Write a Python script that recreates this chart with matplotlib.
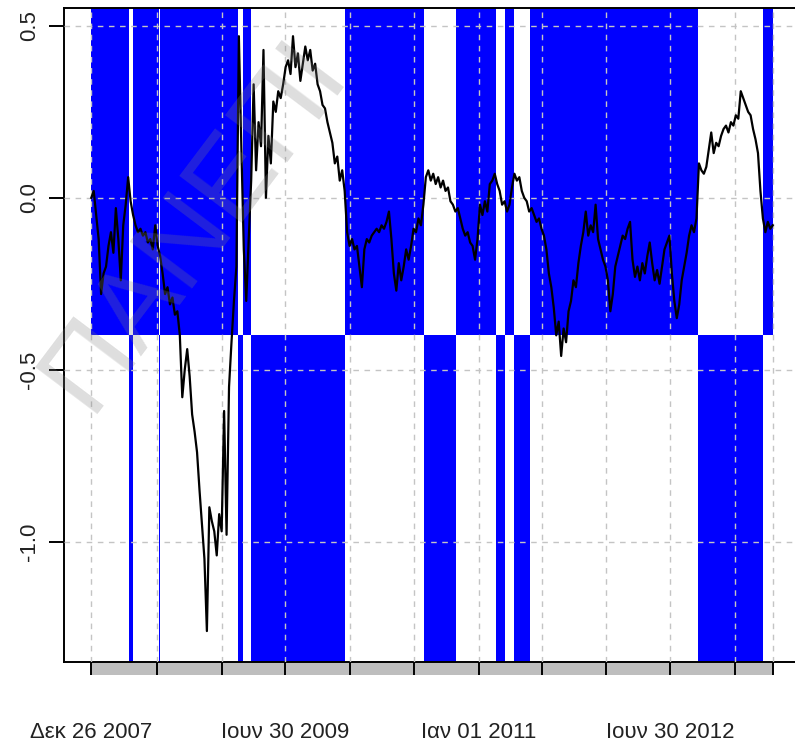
import matplotlib
matplotlib.use('Agg')
import matplotlib.pyplot as plt
import matplotlib.dates as mdates
import matplotlib.transforms as mtransforms
from matplotlib.patches import Rectangle
import pandas as pd

plt.rcParams['font.family'] = ['Liberation Sans', 'DejaVu Sans']
plt.rcParams['axes.unicode_minus'] = False

# ---------------- data ----------------
start_date = '2007-12-26'
values = [
    0.00, 0.02, -0.05, -0.12, -0.28, -0.22, -0.20, -0.14, -0.10, -0.16,
    -0.03, -0.12, -0.24, -0.08, -0.02, 0.06, -0.01, -0.05, -0.08, -0.10,
    -0.09, -0.11, -0.10, -0.13, -0.12, -0.15, -0.08, -0.14, -0.17, -0.22,
    -0.28, -0.26, -0.31, -0.29, -0.34, -0.33, -0.40, -0.58, -0.50, -0.44,
    -0.52, -0.63, -0.68, -0.74, -0.85, -0.95, -1.05, -1.26, -0.90, -0.94,
    -0.97, -1.04, -0.92, -0.97, -0.62, -0.98, -0.55, -0.42, -0.30, -0.20,
    0.47, 0.15, -0.15, -0.30, -0.12, 0.05, 0.33, 0.08, 0.22, 0.15,
    0.43, 0.00, 0.18, 0.10, 0.28, 0.25, 0.31, 0.29, 0.33, 0.38,
    0.40, 0.36, 0.47, 0.38, 0.42, 0.34, 0.39, 0.44, 0.40, 0.43,
    0.37, 0.39, 0.33, 0.31, 0.27, 0.26, 0.22, 0.19, 0.16, 0.10,
    0.12, 0.05, 0.08, 0.02, -0.10, -0.14, -0.12, -0.15, -0.14, -0.20,
    -0.26, -0.15, -0.12, -0.13, -0.11, -0.10, -0.09, -0.10, -0.08, -0.09,
    -0.07, -0.04, -0.12, -0.22, -0.27, -0.19, -0.24, -0.20, -0.15, -0.18,
    -0.14, -0.09, -0.10, -0.06, -0.08, -0.02, 0.06, 0.08, 0.05, 0.07,
    0.04, 0.06, 0.03, 0.05, 0.02, 0.03, -0.01, -0.02, -0.04, -0.03,
    -0.06, -0.09, -0.11, -0.10, -0.13, -0.14, -0.18, -0.12, -0.02, -0.05,
    -0.01, -0.04, 0.04, 0.05, 0.07, 0.04, 0.02, -0.02, -0.01, -0.04,
    -0.02, 0.03, 0.07, 0.05, 0.06, 0.02, 0.00, -0.01, -0.04, -0.03,
    -0.05, -0.07, -0.06, -0.09, -0.11, -0.15, -0.22, -0.26, -0.32, -0.40,
    -0.36, -0.46, -0.38, -0.42, -0.33, -0.30, -0.24, -0.26, -0.19, -0.14,
    -0.10, -0.04, -0.11, -0.08, -0.10, -0.02, -0.12, -0.15, -0.18, -0.20,
    -0.24, -0.33, -0.28, -0.20, -0.17, -0.14, -0.11, -0.12, -0.09, -0.07,
    -0.18, -0.23, -0.20, -0.24, -0.19, -0.22, -0.17, -0.13, -0.19, -0.24,
    -0.21, -0.25, -0.20, -0.15, -0.13, -0.11, -0.22, -0.30, -0.35, -0.31,
    -0.24, -0.20, -0.16, -0.11, -0.08, -0.10, -0.06, 0.10, 0.08, 0.07,
    0.09, 0.14, 0.19, 0.13, 0.16, 0.15, 0.18, 0.20, 0.21, 0.19,
    0.22, 0.21, 0.24, 0.23, 0.31, 0.29, 0.27, 0.25, 0.24, 0.20,
    0.17, 0.13, 0.02, -0.06, -0.10, -0.07, -0.09, -0.08,
]
dates = pd.date_range(start_date, periods=len(values), freq='7D')

# regime periods: 1 = upper band, 2 = lower band
regime_starts = ['2007-12-26', '2008-04-12', '2008-04-23', '2008-07-07', '2008-07-10',
                 '2009-02-15', '2009-03-03', '2009-03-24', '2009-12-18', '2010-07-30',
                 '2010-10-30', '2011-02-19', '2011-03-18', '2011-04-13', '2011-05-26',
                 '2012-09-15', '2013-03-21']
regime_states = [1, 2, 1, 2, 1, 2, 1, 2, 1, 2, 1, 2, 1, 2, 1, 2, 1]
threshold = -0.4
y_limits = (-1.35, 0.552)

tick_dates = ['2007-12-26', '2008-06-30', '2008-12-31', '2009-06-30', '2009-12-31',
              '2010-06-30', '2011-01-01', '2011-06-30', '2011-12-30', '2012-06-30',
              '2012-12-31']
tick_labels = {'2007-12-26': 'Δεκ 26 2007', '2009-06-30': 'Ιουν 30 2009',
               '2011-01-01': 'Ιαν 01 2011', '2012-06-30': 'Ιουν 30 2012'}
y_ticks = [0.5, 0.0, -0.5, -1.0]
y_tick_labels = ['0.5', '0.0', '-0.5', '-1.0']
watermark = 'ΠΑΝΕΠΙ'

blue = '#0000FF'
grid_col = '#c4c4c4'

# ---------------- figure ----------------
W, H = 795, 744
fig = plt.figure(figsize=(W / 100, H / 100), dpi=100)
ax = fig.add_axes([64 / W, 82 / H, (800 - 64) / W, (662 - 8) / H])

x_first = mdates.date2num(dates[0])
x_last = mdates.date2num(dates[-1])
span = x_last - x_first
ax.set_xlim(x_first - 0.04 * span, x_last + 0.04 * span)
ax.set_ylim(*y_limits)

# regime bands
frac = (threshold - y_limits[0]) / (y_limits[1] - y_limits[0])
starts_num = [mdates.date2num(pd.Timestamp(d)) for d in regime_starts] + [x_last]
for i, st in enumerate(regime_states):
    x0, x1 = starts_num[i], starts_num[i + 1]
    if st == 1:
        ax.axvspan(x0, x1, ymin=frac, ymax=1, color=blue, lw=0, zorder=1)
    else:
        ax.axvspan(x0, x1, ymin=0, ymax=frac, color=blue, lw=0, zorder=1)

# series
ax.plot(mdates.date2num(dates), values, color='black', lw=1.6, zorder=3)

# ticks
all_ticks = [mdates.date2num(pd.Timestamp(d)) for d in tick_dates] + [x_last]
labels = [tick_labels.get(d, '') for d in tick_dates] + ['']
ax.set_xticks(all_ticks)
ax.set_xticklabels(labels, fontsize=16, color='#222222')
ax.tick_params(axis='x', direction='out', length=9.5, width=1.4, pad=34, color='black')

ax.set_yticks(y_ticks)
ax.set_yticklabels(y_tick_labels, fontsize=16, rotation=90, va='center', color='#222222')
ax.tick_params(axis='y', direction='out', length=11, width=1.4, pad=6)

ax.grid(True, color=grid_col, linestyle=(0, (4, 4)), linewidth=1.0)
ax.set_axisbelow(False)

# grey time bar beneath the axis
trans = mtransforms.blended_transform_factory(ax.transData, ax.transAxes)
bar_h = 13 / 654
ax.add_patch(Rectangle((x_first, -bar_h), x_last - x_first, bar_h, transform=trans,
                       facecolor='#bebebe', edgecolor='none', clip_on=False, zorder=0.5))

for s in ['top', 'left', 'bottom']:
    ax.spines[s].set_linewidth(1.4)
    ax.spines[s].set_color('black')
ax.spines['right'].set_visible(False)

# faint watermark
fig.text(195 / W, 1 - 225 / H, watermark, rotation=53, rotation_mode='anchor',
         ha='center', va='center', fontsize=82, color='gray', alpha=0.26, zorder=10)

fig.savefig('out.png', dpi=100)
